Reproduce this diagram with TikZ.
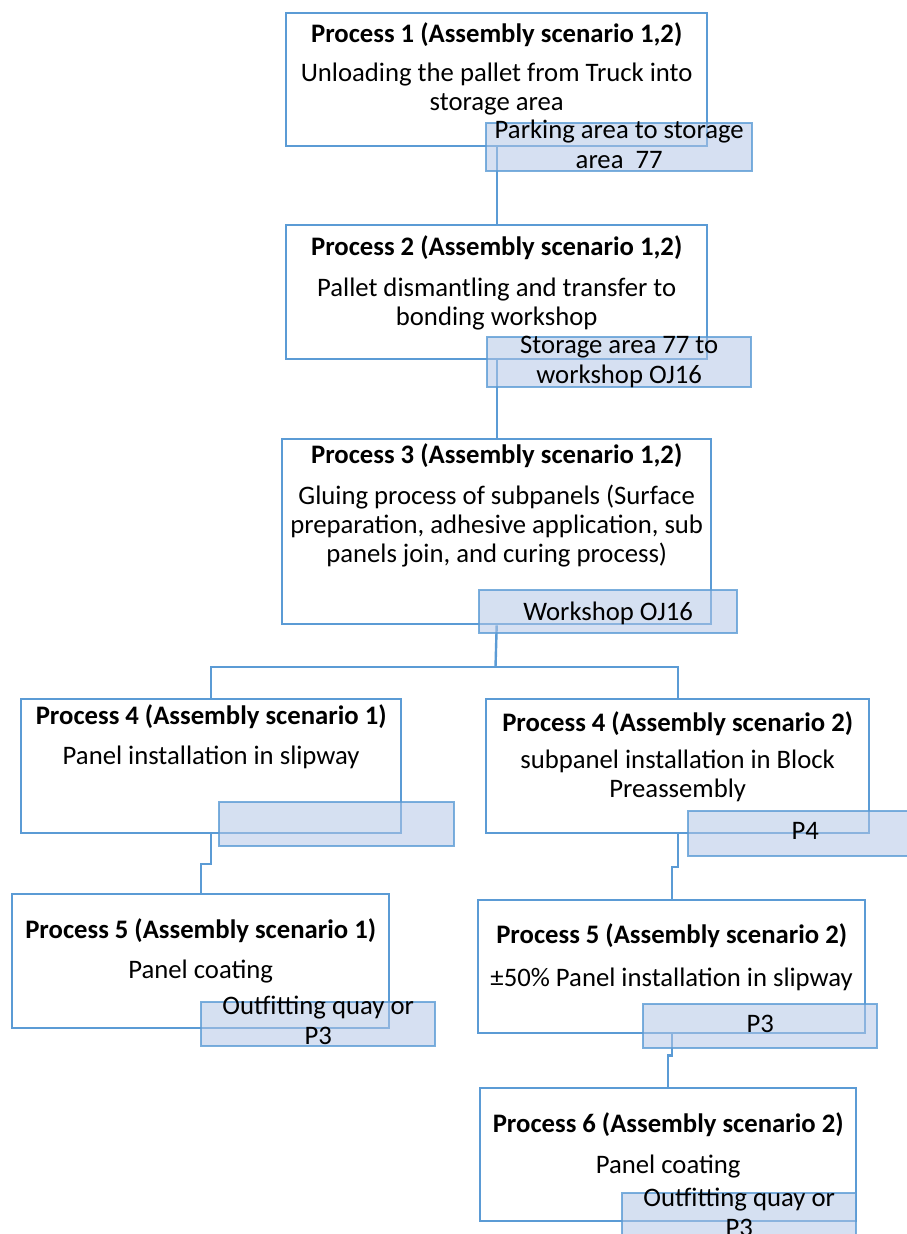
\documentclass[tikz,border=0pt]{standalone}
\usepackage{fontspec}
\setmainfont{Carlito}
\usetikzlibrary{calc}
\definecolor{boxblue}{HTML}{5B9BD5}
\definecolor{labfill}{HTML}{B4C7E7}
\tikzset{
  pbox/.style={draw=boxblue, line width=2.4pt, fill=white, inner sep=0pt, anchor=north west},
  lab/.style={draw=boxblue, draw opacity=0.8, line width=2.4pt, fill=labfill, fill opacity=0.55, inner sep=0pt, anchor=north west},
  conn/.style={draw=boxblue, line width=2.4pt},
  ttl/.style={font=\fontsize{26.7}{29}\selectfont\bfseries, anchor=base, inner sep=0pt},
  txt/.style={font=\fontsize{26.7}{29}\selectfont, anchor=base, align=center, inner sep=0pt},
  ltxt/.style={font=\fontsize{26.7}{30}\selectfont, anchor=base, align=center, inner sep=0pt},
}
\begin{document}
\begin{tikzpicture}[x=1pt,y=-1pt]
\useasboundingbox (0,0) rectangle (907,1234);
\clip (0,0) rectangle (907,1234);
% process boxes
\node[pbox, minimum width=421pt, minimum height=133pt] (b1) at (285,12) {};
\node[pbox, minimum width=421pt, minimum height=134pt] (b2) at (285,224) {};
\node[pbox, minimum width=429pt, minimum height=185pt] (b3) at (281,438) {};
\node[pbox, minimum width=380pt, minimum height=134pt] (b4l) at (20,698) {};
\node[pbox, minimum width=383pt, minimum height=134pt] (b4r) at (485,698) {};
\node[pbox, minimum width=377pt, minimum height=134pt] (b5l) at (11,893) {};
\node[pbox, minimum width=387pt, minimum height=133pt] (b5r) at (477,899) {};
\node[pbox, minimum width=376pt, minimum height=133pt] (b6) at (479,1087) {};
% connectors
\coordinate (br) at (495.5,667);
\draw[conn] (b1.south) -- (b2.north);
\draw[conn] (b2.south) -- (b3.north);
\draw[conn] (b3.south) -- (br);
\draw[conn] (b4l.north) |- (br) -| (b4r.north);
\draw[conn] (b4l.south) |- ($(b4l.south)!.5!(b5l.north)$) -| (b5l.north);
\draw[conn] (b4r.south) |- ($(b4r.south)!.5!(b5r.north)$) -| (b5r.north);
\draw[conn] (b5r.south) |- ($(b5r.south)!.4!(b6.north)$) -| (b6.north);
% location labels
\node[lab, minimum width=266pt, minimum height=48pt] (l1) at (485,122) {};
\node[lab, minimum width=264pt, minimum height=50pt] (l2) at (486,336) {};
\node[lab, minimum width=258pt, minimum height=43pt] (l3) at (478,589) {};
\node[lab, minimum width=235pt, minimum height=44pt] (l4l) at (218,801) {};
\node[lab, minimum width=234pt, minimum height=45pt] (l4r) at (687,810) {};
\node[lab, minimum width=234pt, minimum height=44pt] (l5l) at (200,1001) {};
\node[lab, minimum width=234pt, minimum height=44pt] (l5r) at (642,1003) {};
\node[lab, minimum width=234pt, minimum height=44pt] (l6) at (621,1192) {};
% titles
\node[ttl] (t1) at ($(b1.north)+(0,30)$) {Process 1 (Assembly scenario 1,2)};
\node[ttl] (t2) at ($(b2.north)+(0,31)$) {Process 2 (Assembly scenario 1,2)};
\node[ttl] (t3) at ($(b3.north)+(0,25)$) {Process 3 (Assembly scenario 1,2)};
\node[ttl] (t4l) at ($(b4l.north)+(0,26)$) {Process 4 (Assembly scenario 1)};
\node[ttl] (t4r) at ($(b4r.north)+(0,33)$) {Process 4 (Assembly scenario 2)};
\node[ttl] (t5l) at ($(b5l.north)+(0,45)$) {Process 5 (Assembly scenario 1)};
\node[ttl] (t5r) at ($(b5r.north)+(0,44)$) {Process 5 (Assembly scenario 2)};
\node[ttl] (t6) at ($(b6.north)+(0,45)$) {Process 6 (Assembly scenario 2)};
% descriptions (anchor base = baseline of last line)
\node[txt] (d1) at ($(b1.north)+(0,98)$) {Unloading the pallet from Truck into\\storage area};
\node[txt] (d2) at ($(b2.north)+(0,101)$) {Pallet dismantling and transfer to\\bonding workshop};
\node[txt] (d3) at ($(b3.north)+(0,124)$) {Gluing process of subpanels (Surface\\preparation, adhesive application, sub\\panels join, and curing process)};
\node[txt] (d4l) at ($(b4l.north)+(0,66)$) {Panel installation in slipway};
\node[txt] (d4r) at ($(b4r.north)+(0,99)$) {subpanel installation in Block\\Preassembly};
\node[txt] (d5l) at ($(b5l.north)+(0,85)$) {Panel coating};
\node[txt] (d5r) at ($(b5r.north)+(0,87)$) {±50\% Panel installation in slipway};
\node[txt] (d6) at ($(b6.north)+(0,86)$) {Panel coating};
% label texts
\node[ltxt] (m1) at ($(l1.north)+(0,46)$) {Parking area to storage\\area~~77};
\node[ltxt] (m2) at ($(l2.north)+(0,47)$) {Storage area 77 to\\workshop OJ16};
\node[ltxt] (m3) at ($(l3.north)+(0,31)$) {Workshop OJ16};
\node[ltxt] (m4r) at ($(l4r.north)+(0,29)$) {P4};
\node[ltxt] (m5l) at ($(l5l.north)+(0,43)$) {Outfitting quay or\\P3};
\node[ltxt] (m5r) at ($(l5r.north)+(0,29)$) {P3};
\node[ltxt] (m6) at ($(l6.north)+(0,44)$) {Outfitting quay or\\P3};
\end{tikzpicture}
\end{document}
